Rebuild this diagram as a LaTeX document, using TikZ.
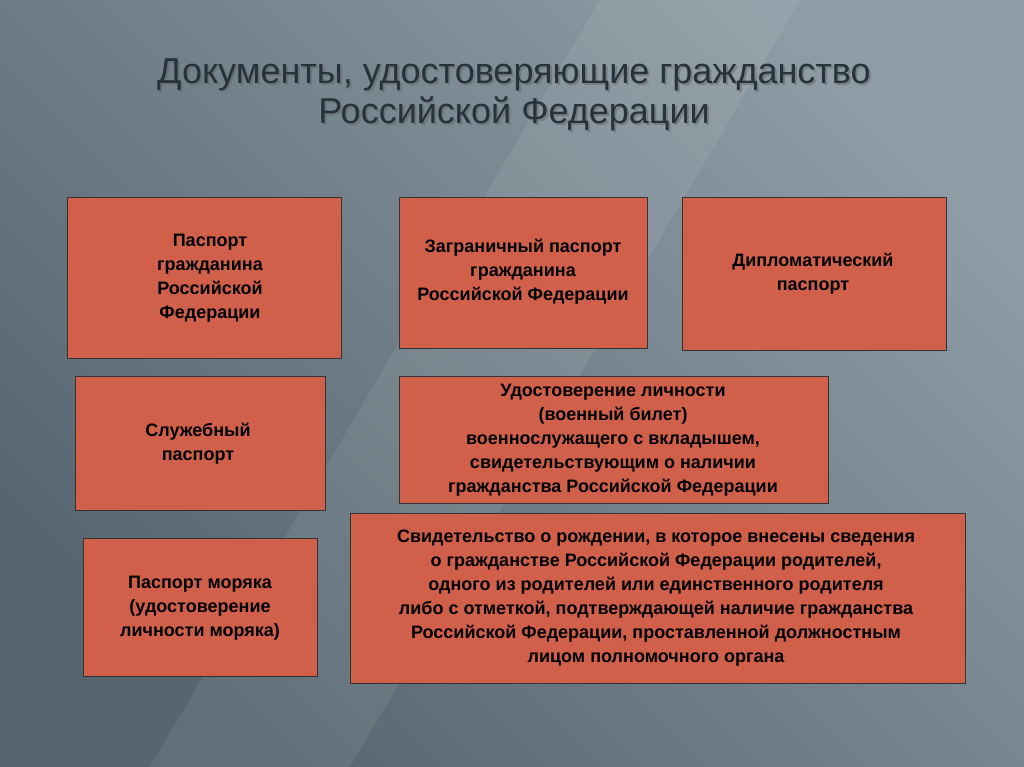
\documentclass[tikz,border=0pt]{standalone}
\usepackage{fontspec}
\setmainfont{Liberation Sans}
\begin{document}
\begin{tikzpicture}[x=1pt,y=-1pt,
  box/.style={draw=black!80,line width=0.8pt,fill=boxc,font=\bfseries\fontsize{18}{24}\selectfont,align=center,text=black,inner sep=0pt},
  ttl/.style={font=\fontsize{36}{40}\selectfont,align=center}]
\definecolor{boxc}{HTML}{D0604A}
\definecolor{bgA}{HTML}{56656F}
\definecolor{bgB}{HTML}{8E9CA5}
\definecolor{ttlc}{HTML}{26323C}
\useasboundingbox (0,0) rectangle (1024,767);
\shade[left color=bgA,right color=bgB,shading angle=135] (0,0) rectangle (1024,767);
\fill[white,opacity=0.07] (150,767) -- (600,0) -- (800,0) -- (350,767) -- cycle;
\node[ttl,text=black!60,opacity=0.5] (tsh) at (516,97) {Документы, удостоверяющие гражданство\\Российской Федерации};
\node[ttl,text=ttlc] (t) at (514,95) {Документы, удостоверяющие гражданство\\Российской Федерации};
\draw[box] (67,197) rectangle (341,358); \node[box,draw=none,fill=none] (b1) at (210,278) {Паспорт\\гражданина\\Российской\\ Федерации};
\draw[box] (399,197) rectangle (647,348); \node[box,draw=none,fill=none] (b2) at (523,272) {Заграничный паспорт\\гражданина\\Российской Федерации};
\draw[box] (682,197) rectangle (946,350); \node[box,draw=none,fill=none] (b3) at (813,274) {Дипломатический\\паспорт};
\draw[box] (75,376) rectangle (325,510); \node[box,draw=none,fill=none] (b4) at (198,444) {Служебный\\паспорт};
\draw[box] (399,376) rectangle (828,503); \node[box,draw=none,fill=none] (b5) at (613,440) {Удостоверение личности\\(военный билет)\\военнослужащего с вкладышем,\\свидетельствующим о наличии\\гражданства Российской Федерации};
\draw[box] (83,538) rectangle (317,676); \node[box,draw=none,fill=none] (b6) at (200,608) {Паспорт моряка\\(удостоверение\\ личности моряка)};
\draw[box] (350,513) rectangle (965,683); \node[box,draw=none,fill=none] (b7) at (656,598) {Свидетельство о рождении, в которое внесены сведения\\о гражданстве Российской Федерации родителей,\\одного из родителей или единственного родителя\\либо с отметкой, подтверждающей наличие гражданства\\Российской Федерации, проставленной должностным\\лицом полномочного органа};
\end{tikzpicture}
\end{document}
